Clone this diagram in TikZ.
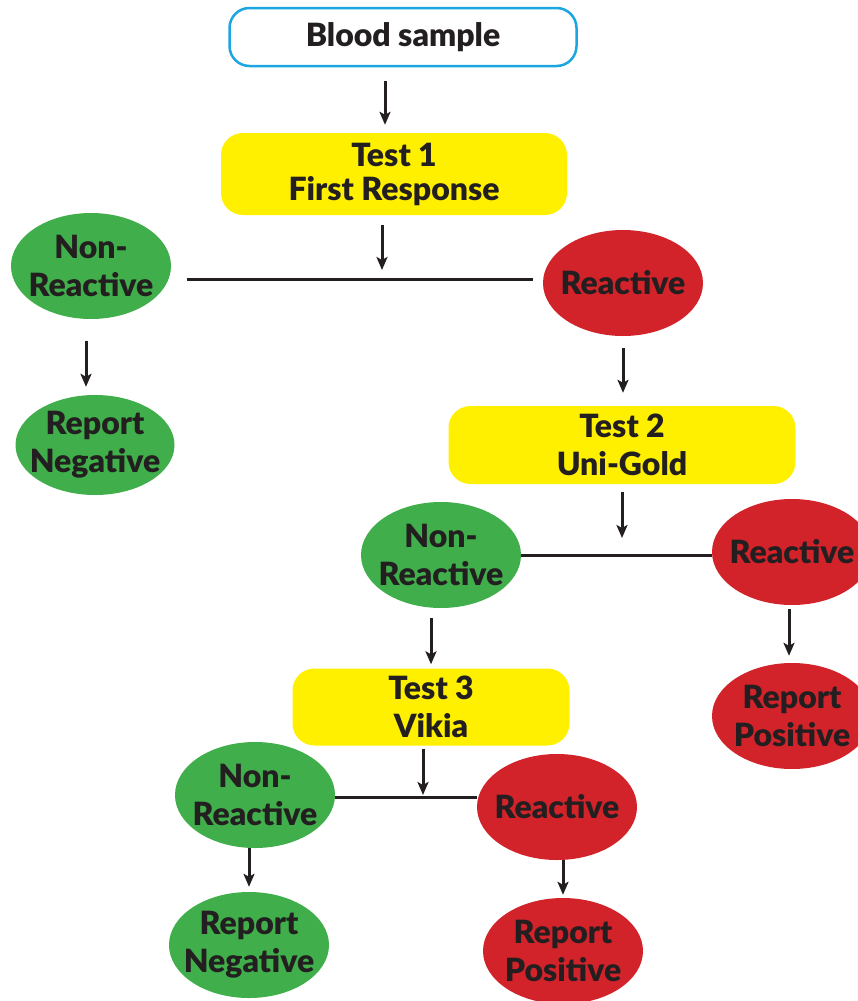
\documentclass[tikz,border=0pt]{standalone}
\usepackage{fontspec}
\setmainfont{Lato}[BoldFont={Lato Black}]
\usetikzlibrary{shapes.geometric,arrows.meta}

\definecolor{okgreen}{HTML}{40AE4A}
\definecolor{badred}{HTML}{D2232A}
\definecolor{testyellow}{HTML}{FFF000}
\definecolor{sampleblue}{HTML}{1BA6E0}
\definecolor{inkblack}{HTML}{231F20}

\tikzset{
  label text/.style={font=\fontsize{32}{38}\selectfont\bfseries, text=inkblack, align=center, inner sep=0pt},
  samplebox/.style={label text, draw=sampleblue, line width=2.5pt, fill=white, rounded corners=20pt,
    minimum width=347pt, minimum height=58pt},
  testbox/.style={label text, fill=testyellow, rounded corners=22pt, minimum height=78pt},
  greenoval/.style={label text, ellipse, inner sep=-10pt, fill=okgreen, minimum width=160pt, minimum height=106pt},
  redoval/.style={label text, ellipse, inner sep=-10pt, fill=badred, minimum width=160pt, minimum height=106pt},
  wire/.style={draw=inkblack, line width=3pt},
  arr/.style={wire, -{Stealth[length=13pt,width=11pt,inset=3pt]}}
}

\begin{document}
\begin{tikzpicture}[x=1pt,y=-1pt]
        \useasboundingbox (0,0) rectangle (858,1001);

        % start and first test
        \node[samplebox] (blood) at (403,37) {Blood sample};
        \node[testbox, minimum width=346pt, minimum height=82pt, font=\fontsize{32}{34}\selectfont\bfseries] (test1) at (394,174) {Test 1\\First Response};
        \node[greenoval] (neg1) at (91,266) {Non-\\Reactive};
        \node[redoval] (pos1) at (623,283) {Reactive};
        \node[greenoval, minimum width=159pt, minimum height=100pt] (rneg1) at (95,445) {Report\\Negative};
        \coordinate (j1) at (382,279);

        \draw[arr, shorten <=14pt, shorten >=8pt] ([xshift=-18pt]blood.south) -- ([xshift=-9pt]test1.north);
        \draw[arr, shorten <=10pt, shorten >=9pt] (test1.south -| j1) -- (j1);
        \draw[wire, shorten <=16pt, shorten >=10pt] (neg1.east |- j1) -- (j1) -- (pos1.west |- j1);
        \draw[arr, shorten <=22pt, shorten >=8pt] ([xshift=-5pt]neg1.south) -- ([xshift=-9pt]rneg1.north);

        % second test
        \node[testbox, minimum width=347pt] (test2) at (622,445) {Test 2\\Uni-Gold};
        \node[greenoval] (neg2) at (441,555) {Non-\\Reactive};
        \node[redoval] (pos2) at (792,552) {Reactive};
        \node[redoval] (rpos2) at (792,716) {Report\\Positive};
        \coordinate (j2) at (622,555);

        \draw[arr, shorten <=12pt, shorten >=13pt] (pos1.south) -- (test2.north -| pos1.south);
        \draw[arr, shorten <=8pt, shorten >=17pt] (test2.south -| j2) -- (j2);
        \draw[wire] (neg2.east |- j2) -- (j2) -- (pos2.west |- j2);
        \draw[arr, shorten <=4pt, shorten >=7pt] ([xshift=-3pt]pos2.south) -- ([xshift=-3pt]rpos2.north);

        % third test
        \node[testbox, minimum width=277pt, minimum height=77pt] (test3) at (431,707) {Test 3\\Vikia};
        \node[greenoval] (neg3) at (255,795) {Non-\\Reactive};
        \node[redoval] (pos3) at (557,807) {Reactive};
        \node[greenoval] (rneg3) at (249,945) {Report\\Negative};
        \node[redoval] (rpos3) at (563,951) {Report\\Positive};
        \coordinate (j3) at (423,797);

        \draw[arr, shorten <=10pt, shorten >=4pt] (neg2.south -| test3.north) -- (test3.north);
        \draw[arr, shorten <=3pt, shorten >=2pt] (test3.south -| j3) -- (j3);
        \draw[wire] (neg3.east |- j3) -- (j3) -- (pos3.west |- j3);
        \draw[arr, shorten >=5pt] (neg3.south -| rneg3.north) -- (rneg3.north);
        \draw[arr, shorten >=3pt] (pos3.south -| rpos3.north) -- (rpos3.north);
    \end{tikzpicture}
\end{document}
